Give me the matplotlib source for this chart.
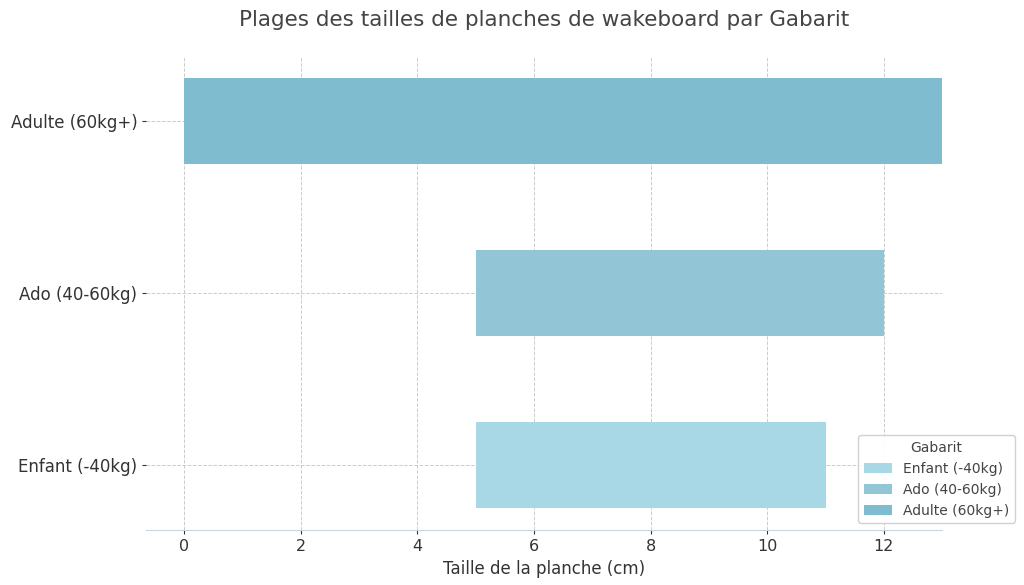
import matplotlib
matplotlib.use("Agg")
import matplotlib.pyplot as plt

categories = ["Enfant (-40kg)", "Ado (40-60kg)", "Adulte (60kg+)"]
starts = [5, 5, 0]
ends = [11, 12, 13]
colors = ["#a8d8e6", "#92c6d7", "#7fbccf"]

plt.rcParams['font.family'] = ['DejaVu Sans']
fig, ax = plt.subplots(figsize=(10.24, 5.85), dpi=100)
fig.subplots_adjust(left=0.143, right=0.92, top=0.903, bottom=0.094)

for i, (c, s, e, col) in enumerate(zip(categories, starts, ends, colors)):
    ax.barh(i, e - s, left=s, height=0.5, color=col, label=c)

ax.set_yticks(range(len(categories)))
ax.set_yticklabels(categories, fontsize=12, color="#333333")
ax.set_xlim(-0.65, 13)
ax.set_ylim(-0.375, 2.375)
ax.set_xticks([0, 2, 4, 6, 8, 10, 12])
ax.tick_params(axis='x', labelsize=11.5, colors="#333333", length=3)
ax.tick_params(axis='y', length=3, colors="#333333")
for lbl in ax.get_xticklabels():
    lbl.set_color("#333333")

ax.grid(True, linestyle='--', color="#cccccc", linewidth=0.7)
ax.set_axisbelow(True)
for side in ['top', 'right', 'left']:
    ax.spines[side].set_visible(False)
ax.spines['bottom'].set_color("#c8d6e0")

ax.set_xlabel("Taille de la planche (cm)", fontsize=12, color="#333333")
ax.set_title("Plages des tailles de planches de wakeboard par Gabarit", fontsize=15.5, color="#444444", pad=22)

leg = ax.legend(title="Gabarit", loc='lower right', bbox_to_anchor=(1.1, 0.0), fontsize=10, title_fontsize=10, framealpha=0.9)
leg.get_frame().set_edgecolor("#cccccc")
for t in leg.get_texts():
    t.set_color("#444444")
leg.get_title().set_color("#444444")

fig.savefig("out.png", dpi=100)
